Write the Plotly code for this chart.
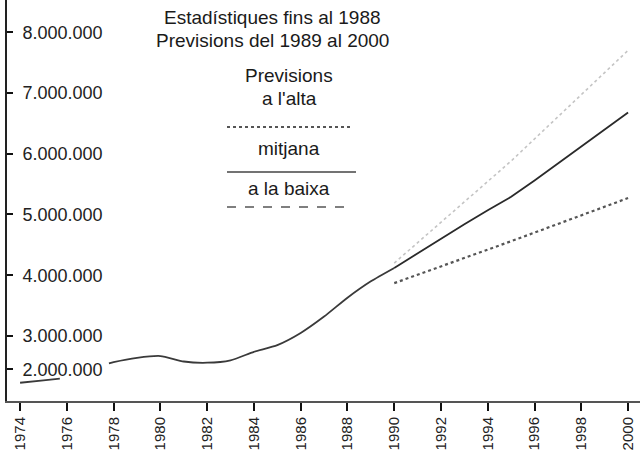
import plotly.graph_objects as go

# ---- data (values in inhabitants / visitors) ----
hist_years = [1974, 1975, 1975.7, 1976.7, 1977.8, 1978, 1979, 1980, 1981, 1982, 1983,
              1984, 1985, 1986, 1987, 1988, 1989, 1990]
hist_values = [2230000, 2270000, 2300000, None, 2550000, 2570000, 2640000, 2670000, 2580000,
               2560000, 2600000, 2740000, 2850000, 3050000, 3320000, 3630000, 3900000, 4120000]

mid_years = [1990, 1991, 1992, 1993, 1994, 1995, 1996, 1997, 1998, 1999, 2000]
mid_values = [4120000, 4360000, 4610000, 4840000, 5070000, 5290000, 5560000, 5840000,
              6120000, 6400000, 6680000]

high_years = [1990, 1995, 2000]
high_values = [4200000, 5880000, 7700000]

low_years = [1990, 1995, 2000]
low_values = [3870000, 4560000, 5270000]

x_tick_vals = [1974, 1976, 1978, 1980, 1982, 1984, 1986, 1988, 1990, 1992, 1994, 1996, 1998, 2000]
x_tick_text = ["1974", "1976", "1978", "1980", "1982", "1984", "1986", "1988", "1990",
               "1992", "1994", "1996", "1998", "2000"]
y_tick_vals = [2450000, 3000000, 4000000, 5000000, 6000000, 7000000, 8000000]
y_tick_text = ["2.000.000", "3.000.000", "4.000.000", "5.000.000", "6.000.000",
               "7.000.000", "8.000.000"]

title_lines = ["Estadístiques fins al 1988", "Previsions del 1989 al 2000"]
legend_labels = ["Previsions", "a l'alta", "mitjana", "a la baixa"]

FONT = "Liberation Sans, Arial, Helvetica, sans-serif"
PAD = "\u00a0\u00a0"

fig = go.Figure()
fig.add_trace(go.Scatter(x=hist_years, y=hist_values, mode="lines",
                         line=dict(color="#3a3a3a", width=1.8, shape="spline", smoothing=0.6),
                         connectgaps=False, showlegend=False))
fig.add_trace(go.Scatter(x=mid_years, y=mid_values, mode="lines",
                         line=dict(color="#2a2a2a", width=1.8), showlegend=False))
fig.add_trace(go.Scatter(x=high_years, y=high_values, mode="lines",
                         line=dict(color="#c4c4c4", width=1.6, dash="dot"), showlegend=False))
fig.add_trace(go.Scatter(x=low_years, y=low_values, mode="lines",
                         line=dict(color="#555555", width=2.2, dash="dot"), showlegend=False))

W, H = 643, 459
L, R, T, B = 7, 3, 0, 58
pw, ph = W - L - R, H - T - B


def px(x):
    return (x - L) / pw


def py(y):
    return (T + ph - y) / ph


annots = []
for txt, yy in zip(title_lines, [18, 40]):
    annots.append(dict(text=txt, x=px(272), y=py(yy), xref="paper", yref="paper",
                       xanchor="center", yanchor="middle", showarrow=False,
                       font=dict(family=FONT, size=19, color="#1a1a1a")))
for txt, yy in zip(legend_labels, [76, 98, 149, 189]):
    annots.append(dict(text=txt, x=px(289), y=py(yy), xref="paper", yref="paper",
                       xanchor="center", yanchor="middle", showarrow=False,
                       font=dict(family=FONT, size=19, color="#1a1a1a")))

shapes = [
    dict(type="line", xref="paper", yref="paper", x0=px(227), x1=px(350), y0=py(127), y1=py(127),
         line=dict(color="#555555", width=2, dash="dot")),
    dict(type="line", xref="paper", yref="paper", x0=px(227), x1=px(356), y0=py(172), y1=py(172),
         line=dict(color="#444444", width=1.6)),
    dict(type="line", xref="paper", yref="paper", x0=px(227), x1=px(350), y0=py(207), y1=py(207),
         line=dict(color="#555555", width=1.6, dash="dash")),
]

fig.update_layout(
    width=W, height=H,
    margin=dict(l=L, r=R, t=T, b=B),
    paper_bgcolor="white", plot_bgcolor="white",
    font=dict(family=FONT, color="#1a1a1a"),
    annotations=annots, shapes=shapes,
    xaxis=dict(range=[1973.44, 2000.51], tickvals=x_tick_vals, ticktext=x_tick_text,
               tickangle=-90, tickfont=dict(size=15, family=FONT, color="#222"),
               ticks="outside", ticklen=8, tickwidth=2, tickcolor="#111",
               ticklabeloverflow="allow",
               showline=True, linecolor="#555", linewidth=2, showgrid=False, zeroline=False),
    yaxis=dict(range=[1930000, 8530000], tickvals=y_tick_vals,
               ticktext=[PAD + t for t in y_tick_text],
               ticklabelposition="inside", tickfont=dict(size=18, family=FONT, color="#222"),
               ticks="inside", ticklen=6, tickwidth=1.5, tickcolor="#111",
               ticklabeloverflow="allow",
               showline=True, linecolor="#222", linewidth=2, showgrid=False, zeroline=False),
)

fig.write_html("out.html", config={"displayModeBar": False},
               post_script="document.body.style.margin='0px';")
